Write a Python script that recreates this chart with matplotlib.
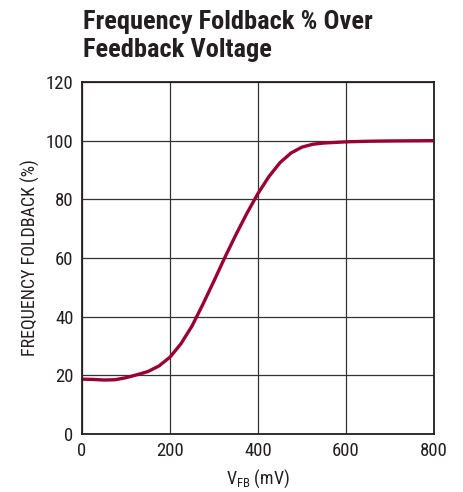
import matplotlib
matplotlib.use("Agg")
import matplotlib.pyplot as plt

# frequency foldback vs feedback voltage
vfb_mv = [0, 25, 50, 75, 100, 125, 150, 175, 200, 225, 250, 275, 300, 325,
          350, 375, 400, 425, 450, 475, 500, 525, 550, 600, 650, 700, 800]
foldback_pct = [18.7, 18.6, 18.4, 18.5, 19.2, 20.2, 21.3, 23.2, 26.2, 30.8,
                36.8, 44.3, 52.2, 60.3, 68.0, 75.3, 82.0, 87.8, 92.5, 95.8,
                97.8, 98.8, 99.2, 99.6, 99.8, 99.9, 100.0]

x_ticks = [0, 200, 400, 600, 800]
y_ticks = [0, 20, 40, 60, 80, 100, 120]

plt.rcParams['font.family'] = ['Roboto Condensed', 'DejaVu Sans']

fig = plt.figure(figsize=(4.64, 4.92), dpi=100)
ax = fig.add_axes([82/464, 1 - 434/492, 352/464, 352/492])

ax.plot(vfb_mv, foldback_pct, color="#990033", lw=2.4, solid_capstyle="round")

ax.set_xlim(0, 800)
ax.set_ylim(0, 120)
ax.set_xticks(x_ticks)
ax.set_yticks(y_ticks)
ax.tick_params(length=0, labelsize=13.5, pad=6, colors="#231f20")
ax.grid(True, color="#333333", lw=0.9)
for s in ax.spines.values():
    s.set_color("#231f20")
    s.set_linewidth(1.3)

ax.set_xlabel("V$_{\\mathregular{FB}}$ (mV)", fontsize=13, color="#231f20", labelpad=5)
ax.set_ylabel("FREQUENCY FOLDBACK (%)", fontsize=13, color="#231f20", labelpad=4)

fig.text(83/464, 1 - 10/492, "Frequency Foldback % Over\nFeedback Voltage",
         fontsize=19, fontweight="bold", color="#231f20", va="top", ha="left",
         linespacing=1.2)

fig.savefig("out.png", dpi=100)
